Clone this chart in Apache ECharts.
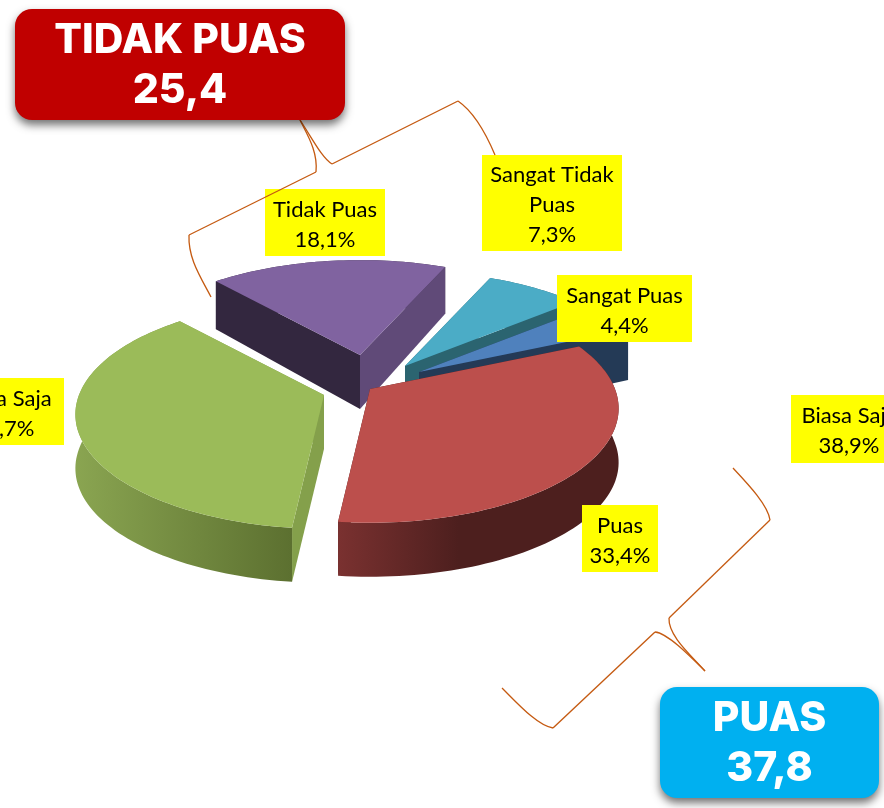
<!DOCTYPE html>
<html>
<head>
<meta charset="utf-8">
<title>Tingkat Kepuasan</title>
<style>
  html, body { margin: 0; padding: 0; background: #fff; }
  #main { width: 884px; height: 808px; }
</style>
<script src="https://cdn.jsdelivr.net/npm/echarts@6/dist/echarts.min.js"></script>
</head>
<body>
<div id="main"></div>
<script>
// data
var sliceNames = ["Sangat Puas", "Puas", "Biasa Saja", "Tidak Puas", "Sangat Tidak\nPuas"];
var sliceValues = [4.4, 33.4, 36.7, 18.1, 7.3];
var extraLabelName = "Biasa Saja";
var extraLabelValue = 38.9;
var groupNames = ["TIDAK PUAS", "PUAS"];
var groupValues = [25.4, 37.8];

// look of the slices
var sliceTop = ["#4f81bd", "#bc4f4c", "#9bbb59", "#8063a0", "#4bacc6"];
var sliceCutA = ["#243a56", "#4d1f1e", "#84a04b", "#604a78", "#2b6470"];
var sliceCutB = ["#243a56", "#4d1f1e", "#84a04b", "#33273f", "#2b6470"];
var sliceOuter = [
  ["#243a56", "#243a56"],
  ["#7a3130", "#4d1f1e"],
  ["#8aa551", "#5c7030"],
  ["#33273f", "#33273f"],
  ["#2b6470", "#2b6470"]
];
var outerStop = [1, 0.43, 1, 1, 1];
// the purple slice has its rim at the back, so its cut walls go in front of it
var outerBehind = [false, false, false, true, false];
// slices are pulled out of the pie by hand, like in the Excel original
var sliceExplode = [[59, -13], [10, 4], [-36, 10], [0, -30], [45, -19]];
var drawOrder = [3, 4, 0, 2, 1];

var centerX = 360, centerY = 385;
var radiusX = 245, radiusY = 111, perspective = 0.17, depth = 54;
var startAngle = 50;

// label boxes x, y, w, h, same order as sliceNames, then the extra one
var labelBoxes = [
  [557, 275, 135, 67],
  [582, 505, 76, 67],
  [-56, 378, 120, 67],
  [265, 189, 120, 67],
  [482, 155, 140, 96],
  [791, 395, 116, 68]
];

function commaText(v) {
  return v.toFixed(1).replace(".", ",");
}

var total = sliceValues.reduce(function (a, b) { return a + b; }, 0);
var sliceAngles = [];
var acc = startAngle;
sliceValues.forEach(function (v) {
  var sweep = v / total * 360;
  sliceAngles.push([acc, acc + sweep]);
  acc += sweep;
});

// angle in degrees clockwise from the back of the pie
function project(deg, i) {
  var t = deg * Math.PI / 180;
  var u = Math.sin(t), v = -Math.cos(t);
  var k = 1 / (1 - perspective * v);
  return {
    x: centerX + sliceExplode[i][0] + radiusX * u * k,
    y: centerY + sliceExplode[i][1] + radiusY * v * k,
    d: depth * Math.min(1, k)
  };
}

function drawSlice(params, api) {
  var i = api.value(0);
  var a0 = sliceAngles[i][0], a1 = sliceAngles[i][1];
  var tip = [centerX + sliceExplode[i][0], centerY + sliceExplode[i][1]];
  var rim = [];
  var steps = Math.ceil((a1 - a0) / 1.5);
  for (var s = 0; s <= steps; s++) {
    rim.push(project(a0 + (a1 - a0) * s / steps, i));
  }
  var topPts = [tip].concat(rim.map(function (p) { return [p.x, p.y]; }));
  var outerPts = rim.map(function (p) { return [p.x, p.y]; })
    .concat(rim.slice().reverse().map(function (p) { return [p.x, p.y + p.d]; }));
  var first = rim[0], last = rim[rim.length - 1];

  function poly(points, fill) {
    return { type: "polygon", shape: { points: points }, style: { fill: fill, stroke: null } };
  }
  var cols = sliceOuter[i];
  var outerFill = new echarts.graphic.LinearGradient(0, 0, 1, 0, [
    { offset: 0, color: cols[0] },
    { offset: outerStop[i], color: cols[1] },
    { offset: 1, color: cols[1] }
  ]);
  var outerWall = poly(outerPts, outerFill);
  var cuts = [
    poly([tip, [first.x, first.y], [first.x, first.y + first.d], [tip[0], tip[1] + depth]], sliceCutB[i]),
    poly([tip, [last.x, last.y], [last.x, last.y + last.d], [tip[0], tip[1] + depth]], sliceCutA[i])
  ];
  var walls = outerBehind[i] ? [outerWall].concat(cuts) : cuts.concat([outerWall]);
  return {
    type: "group",
    children: walls.concat([poly(topPts, sliceTop[i])])
  };
}

var labelTexts = sliceNames.map(function (n, i) {
  return n + "\n" + commaText(sliceValues[i]) + "%";
});
labelTexts.push(extraLabelName + "\n" + commaText(extraLabelValue) + "%");

function drawLabel(params, api) {
  var i = api.value(0);
  var b = labelBoxes[i];
  return {
    type: "group",
    children: [
      { type: "rect", shape: { x: b[0], y: b[1], width: b[2], height: b[3] }, style: { fill: "#ffff00" } },
      {
        type: "text",
        style: {
          x: b[0] + b[2] / 2,
          y: b[1] + b[3] / 2 + 2,
          text: labelTexts[i],
          fill: "#000",
          font: '22px Lato',
          lineHeight: 30,
          align: "center",
          verticalAlign: "middle"
        }
      }
    ]
  };
}

function calloutBox(x, y, w, h, color, name, value) {
  return {
    type: "group",
    children: [
      {
        type: "rect", z: 20,
        shape: { x: x, y: y, width: w, height: h, r: 17 },
        style: { fill: color, shadowBlur: 8, shadowOffsetX: 0, shadowOffsetY: 5, shadowColor: "rgba(0,0,0,0.55)" }
      },
      {
        type: "text", z: 21,
        style: {
          x: x + w / 2, y: y + h / 2 + 1, text: name + "\n" + commaText(value),
          fill: "#fff", font: '800 41px Inter', lineHeight: 50, align: "center", verticalAlign: "middle"
        }
      }
    ]
  };
}

// one brace arm: curve, straight run, curve
function brace(a, b) {
  function curve(c) {
    return {
      type: "bezierCurve", z: 15,
      shape: { x1: c[0], y1: c[1], cpx1: c[2], cpy1: c[3], cpx2: c[4], cpy2: c[5], x2: c[6], y2: c[7] },
      style: { fill: null, stroke: "#c55a11", lineWidth: 1.3 }
    };
  }
  return {
    type: "group",
    children: [
      curve(a),
      {
        type: "line", z: 15,
        shape: { x1: a[6], y1: a[7], x2: b[0], y2: b[1] },
        style: { stroke: "#c55a11", lineWidth: 1.3 }
      },
      curve(b)
    ]
  };
}

var chart = echarts.init(document.getElementById("main"), null, { renderer: "canvas" });
chart.setOption({
  animation: false,
  backgroundColor: "#ffffff",
  series: [
    {
      type: "custom",
      coordinateSystem: "none",
      silent: true,
      z: 2,
      renderItem: drawSlice,
      encode: { value: 0 },
      data: drawOrder.map(function (i) { return [i]; })
    },
    {
      type: "custom",
      coordinateSystem: "none",
      silent: true,
      z: 3,
      renderItem: drawLabel,
      encode: { value: 0 },
      data: labelTexts.map(function (t, i) { return [i]; })
    }
  ],
  graphic: [
    brace([300, 120, 308, 136, 318, 152, 316, 172], [189, 235, 188, 258, 200, 276, 211, 297]),
    brace([300, 120, 312, 138, 322, 158, 332, 164], [458, 101, 474, 112, 487, 136, 495, 155]),
    brace([733, 468, 748, 484, 768, 505, 770, 520], [669, 618, 668, 636, 692, 656, 705, 671]),
    brace([705, 671, 688, 654, 667, 633, 655, 632], [553, 728, 538, 726, 518, 704, 502, 688]),
    calloutBox(15, 9, 330, 111, "#c00000", groupNames[0], groupValues[0]),
    calloutBox(660, 687, 219, 111, "#00b0f0", groupNames[1], groupValues[1])
  ]
});
</script>
</body>
</html>
